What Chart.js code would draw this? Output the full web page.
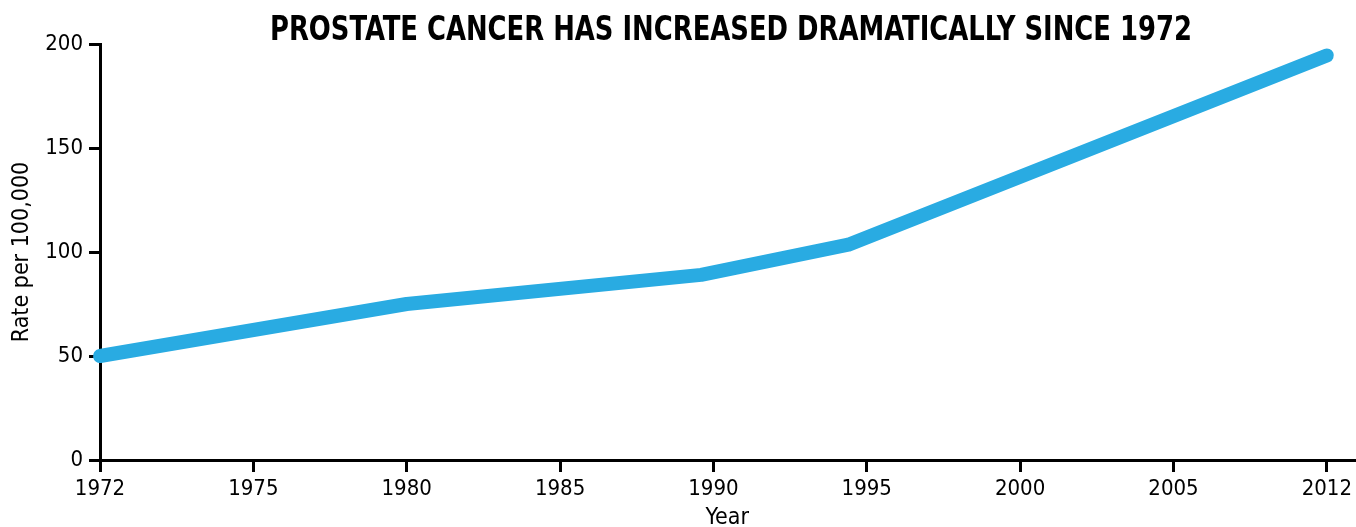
<!DOCTYPE html>
<html>
<head>
<meta charset="utf-8">
<script src="https://cdn.jsdelivr.net/npm/chart.js@4/dist/chart.umd.min.js"></script>
<style>
  html, body { margin: 0; padding: 0; background: #fff; }
  canvas { display: block; }
</style>
</head>
<body>
<canvas id="chart" width="1356" height="527"></canvas>
<script>
// 坐标轴刻度（等距显示）
const tickYears = [1972, 1975, 1980, 1985, 1990, 1995, 2000, 2005, 2012];
// 数据点年份与发病率（每10万人）
const years = [1972, 1980, 1989.6, 1994.4, 2012];
const rates = [50, 75, 89, 103.5, 194.5];

const FONT = '"Liberation Sans Narrow", "DejaVu Sans Condensed", Arial, sans-serif';
const TITLE = 'PROSTATE CANCER HAS INCREASED DRAMATICALLY SINCE 1972';

// 年份 → 刻度槽位（刻度之间线性插值）
function yearToSlot(y) {
  for (let i = 0; i < tickYears.length - 1; i++) {
    const a = tickYears[i], b = tickYears[i + 1];
    if (y <= b) return i + (y - a) / (b - a);
  }
  return tickYears.length - 1;
}

// 顶部标题（横向压缩成窄体）
const titlePlugin = {
  id: 'bigTitle',
  afterDraw(chart) {
    const ctx = chart.ctx;
    ctx.save();
    ctx.font = 'bold 34px ' + FONT;
    const w = ctx.measureText(TITLE).width;
    const sx = Math.min(1, 922 / w);
    ctx.translate(731, 31);
    ctx.scale(sx, 1);
    ctx.fillStyle = '#000';
    ctx.textAlign = 'center';
    ctx.textBaseline = 'middle';
    ctx.fillText(TITLE, 0, 0);
    ctx.restore();
  }
};

new Chart(document.getElementById('chart'), {
  type: 'line',
  data: {
    datasets: [{
      data: years.map((y, i) => ({ x: yearToSlot(y), y: rates[i] })),
      borderColor: '#29abe2',
      borderWidth: 14,
      borderCapStyle: 'round',
      borderJoinStyle: 'round',
      pointRadius: 0,
      tension: 0,
      clip: false
    }]
  },
  options: {
    responsive: false,
    animation: false,
    layout: { padding: { top: 44, right: 0, left: 0, bottom: 0 } },
    plugins: { legend: { display: false }, tooltip: { enabled: false } },
    scales: {
      x: {
        type: 'linear',
        min: 0,
        max: 8.18,
        afterBuildTicks: s => { s.ticks = tickYears.map((_, i) => ({ value: i })); },
        afterFit: s => { s.height = 67; },
        ticks: {
          autoSkip: false,
          maxRotation: 0,
          color: '#000',
          padding: 4,
          font: { family: FONT, size: 22 },
          callback: v => tickYears[v]
        },
        grid: { drawOnChartArea: false, drawTicks: true, tickLength: 12, color: '#000', lineWidth: 3 },
        border: { color: '#000', width: 3 },
        title: {
          display: true,
          text: 'Year',
          color: '#000',
          font: { family: FONT, size: 23, lineHeight: 0.8 },
          padding: 0
        }
      },
      y: {
        min: 0,
        max: 200,
        afterFit: s => { s.width = 100; },
        ticks: {
          stepSize: 50,
          color: '#000',
          padding: 6,
          font: { family: FONT, size: 22 }
        },
        grid: { drawOnChartArea: false, drawTicks: true, tickLength: 11, color: '#000', lineWidth: 3 },
        border: { color: '#000', width: 3 },
        title: {
          display: true,
          text: 'Rate per 100,000',
          color: '#000',
          font: { family: FONT, size: 23 },
          padding: { top: 8, bottom: 0 }
        }
      }
    }
  },
  plugins: [titlePlugin]
});
</script>
</body>
</html>
